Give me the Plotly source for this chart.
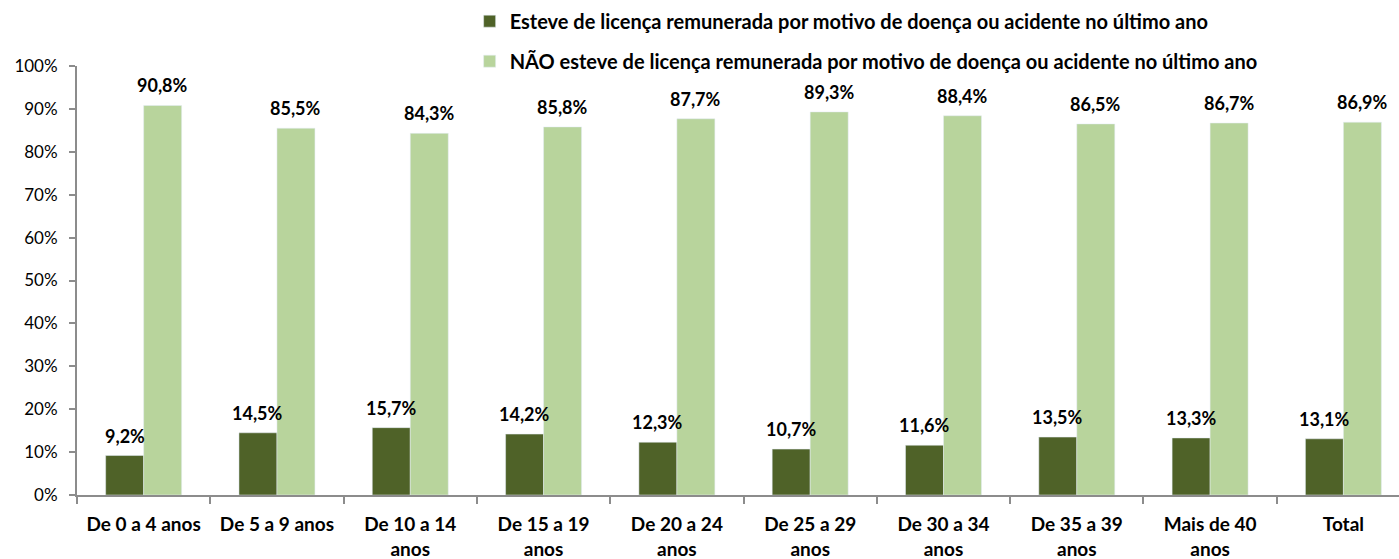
import plotly.graph_objects as go

categories = [
    "De 0 a 4 anos", "De 5 a 9 anos", "De 10 a 14<br>anos", "De 15 a 19<br>anos",
    "De 20 a 24<br>anos", "De 25 a 29<br>anos", "De 30 a 34<br>anos", "De 35 a 39<br>anos",
    "Mais de 40<br>anos", "Total",
]
esteve = [9.2, 14.5, 15.7, 14.2, 12.3, 10.7, 11.6, 13.5, 13.3, 13.1]
nao_esteve = [90.8, 85.5, 84.3, 85.8, 87.7, 89.3, 88.4, 86.5, 86.7, 86.9]

name_esteve = "Esteve de licença remunerada por motivo de doença ou acidente no último ano"
name_nao = "NÃO esteve de licença remunerada por motivo de doença ou acidente no último ano"

DARK = "#4F6228"
LIGHT = "#B8D49C"
FONT = "Lato, 'Open Sans', sans-serif"

fig = go.Figure()
fig.add_trace(go.Bar(x=categories, y=esteve, name=name_esteve, marker_color=DARK,
                     legendgroup="a"))
fig.add_trace(go.Bar(x=categories, y=nao_esteve, name=name_nao, marker_color=LIGHT,
                     legendgroup="b"))

def fmt(v):
    return f"{v:.1f}%".replace(".", ",")

annotations = []
for cat, a, b in zip(categories, esteve, nao_esteve):
    for val, shift in ((a, -19), (b, 19)):
        annotations.append(dict(
            x=cat, y=val, xref="x", yref="y", text=f"<b>{fmt(val)}</b>",
            showarrow=False, xshift=shift, yshift=7, yanchor="bottom",
            font=dict(family=FONT, size=18, color="#000000"),
        ))

fig.update_layout(
    width=1399, height=559,
    margin=dict(l=77, r=0, t=66, b=64),
    paper_bgcolor="white", plot_bgcolor="white",
    barmode="group", bargap=0.43, bargroupgap=0,
    font=dict(family=FONT, size=17, color="#000000"),
    showlegend=True,
    legend=dict(
        x=0.297, xanchor="left", y=1.15, yanchor="top",
        orientation="v", tracegroupgap=11,
        font=dict(family=FONT, size=20, color="#000000", weight="bold"),
        itemwidth=30, bgcolor="rgba(0,0,0,0)",
    ),
    annotations=annotations,
)
fig.update_xaxes(
    range=[-0.5, 9.417], showline=True, linecolor="#8C8C8C", linewidth=2,
    ticks="outside", tickson="boundaries", ticklen=7, tickcolor="#8C8C8C", tickwidth=2,
    tickfont=dict(family=FONT, size=19, color="#000000", weight="bold"),
    ticklabelstandoff=11,
    showgrid=False, zeroline=False,
)
fig.update_yaxes(
    range=[0, 100], dtick=10, ticksuffix="%", showline=True, linecolor="#8C8C8C",
    linewidth=2, ticks="outside", ticklen=6, tickcolor="#8C8C8C", tickwidth=2,
    tickfont=dict(family=FONT, size=17, color="#000000"),
    ticklabelstandoff=8,
    showgrid=False, zeroline=False,
)

fig.write_html("out.html")
